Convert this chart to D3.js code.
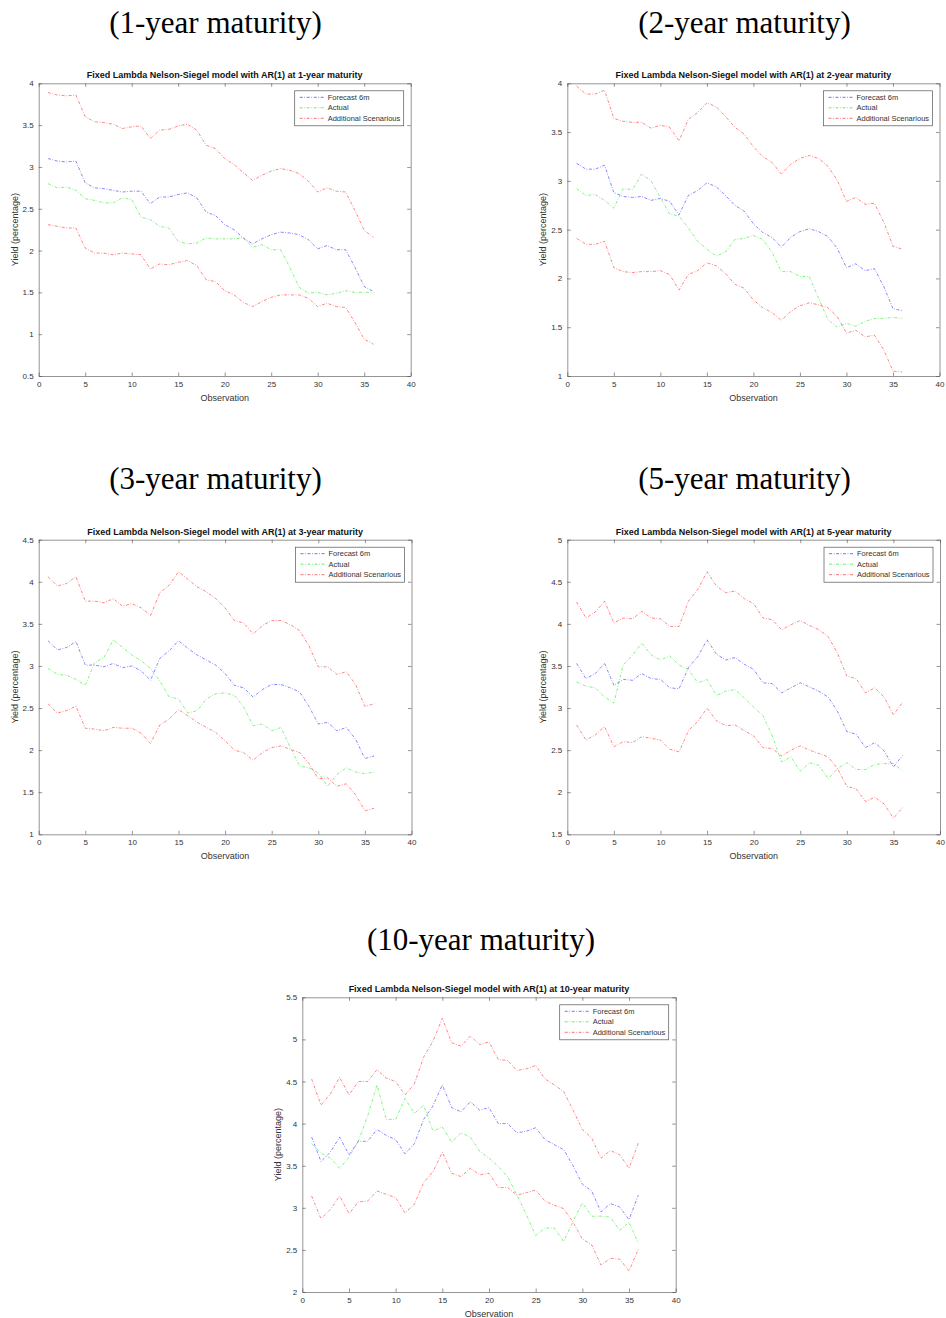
<!DOCTYPE html>
<html>
<head>
<meta charset="utf-8">
<script src="https://cdn.jsdelivr.net/npm/d3@7"></script>
<style>
  body { margin: 0; background: #fff; }
  svg { display: block; }
</style>
</head>
<body>
<div id="chart"></div>
<script>
// observation index (x axis)
const obs = [1,2,3,4,5,6,7,8,9,10,11,12,13,14,15,16,17,18,19,20,21,22,23,24,25,26,27,28,29,30,31,32,33,34,35,36];
const xTicks = [0,5,10,15,20,25,30,35,40];
const legendLabels = ["Forecast 6m", "Actual", "Additional Scenarious"];
const headings = ["(1-year maturity)", "(2-year maturity)", "(3-year maturity)", "(5-year maturity)", "(10-year maturity)"];
const titles = [
  "Fixed Lambda Nelson-Siegel model with AR(1) at 1-year maturity",
  "Fixed Lambda Nelson-Siegel model with AR(1) at 2-year maturity",
  "Fixed Lambda Nelson-Siegel model with AR(1) at 3-year maturity",
  "Fixed Lambda Nelson-Siegel model with AR(1) at 5-year maturity",
  "Fixed Lambda Nelson-Siegel model with AR(1) at 10-year maturity"
];
const yTicks1 = [0.5,1,1.5,2,2.5,3,3.5,4];
const yTicks2 = [1,1.5,2,2.5,3,3.5,4];
const yTicks3 = [1,1.5,2,2.5,3,3.5,4,4.5];
const yTicks5 = [1.5,2,2.5,3,3.5,4,4.5,5];
const yTicks10 = [2,2.5,3,3.5,4,4.5,5,5.5];

// 1-year
const forecast1 = [3.10,3.07,3.06,3.07,2.81,2.75,2.74,2.72,2.70,2.71,2.71,2.56,2.64,2.64,2.67,2.69,2.63,2.46,2.42,2.31,2.25,2.15,2.08,2.14,2.19,2.22,2.21,2.19,2.13,2.02,2.06,2.01,2.01,1.80,1.57,1.51];
const actual1 = [2.80,2.75,2.76,2.72,2.62,2.60,2.57,2.57,2.63,2.61,2.40,2.37,2.29,2.27,2.11,2.08,2.09,2.15,2.14,2.14,2.14,2.15,2.04,2.07,2.01,2.01,1.80,1.56,1.49,1.50,1.47,1.49,1.52,1.50,1.50,1.50];
const upper1 = [3.89,3.86,3.85,3.86,3.60,3.54,3.53,3.51,3.46,3.48,3.49,3.34,3.44,3.45,3.49,3.51,3.44,3.26,3.22,3.10,3.03,2.93,2.84,2.90,2.95,2.98,2.96,2.92,2.83,2.70,2.75,2.71,2.70,2.48,2.24,2.16];
const lower1 = [2.31,2.29,2.27,2.27,2.03,1.97,1.97,1.95,1.97,1.96,1.95,1.78,1.84,1.83,1.86,1.88,1.82,1.65,1.63,1.52,1.47,1.38,1.33,1.39,1.44,1.47,1.47,1.47,1.43,1.33,1.37,1.33,1.32,1.14,0.94,0.88];

// 2-year
const forecast2 = [3.18,3.12,3.12,3.16,2.88,2.84,2.83,2.84,2.80,2.82,2.79,2.65,2.85,2.90,2.98,2.94,2.85,2.75,2.69,2.56,2.47,2.42,2.32,2.42,2.48,2.51,2.48,2.43,2.31,2.11,2.15,2.08,2.10,1.92,1.69,1.67];
const actual2 = [2.92,2.85,2.86,2.80,2.72,2.92,2.91,3.07,3.00,2.83,2.66,2.64,2.52,2.38,2.30,2.23,2.27,2.40,2.41,2.44,2.40,2.27,2.07,2.07,2.02,2.02,1.80,1.58,1.50,1.54,1.51,1.56,1.59,1.59,1.60,1.59];
const upper2 = [3.97,3.89,3.89,3.93,3.64,3.61,3.60,3.60,3.54,3.57,3.55,3.41,3.63,3.70,3.80,3.76,3.66,3.55,3.48,3.35,3.25,3.19,3.07,3.17,3.23,3.26,3.23,3.15,3.01,2.79,2.83,2.76,2.77,2.58,2.33,2.30];
const lower2 = [2.41,2.35,2.35,2.38,2.11,2.07,2.06,2.07,2.07,2.08,2.04,1.88,2.04,2.08,2.16,2.13,2.05,1.94,1.90,1.78,1.70,1.65,1.57,1.66,1.72,1.75,1.73,1.70,1.61,1.44,1.47,1.40,1.42,1.27,1.05,1.04];

// 3-year
const forecast3 = [3.30,3.19,3.22,3.29,3.01,3.01,2.99,3.03,2.98,3.00,2.94,2.83,3.09,3.18,3.30,3.21,3.13,3.07,3.01,2.91,2.77,2.74,2.63,2.72,2.78,2.78,2.74,2.69,2.52,2.31,2.33,2.23,2.27,2.13,1.90,1.93];
const actual3 = [2.97,2.90,2.89,2.84,2.77,3.04,3.10,3.31,3.22,3.13,3.06,2.97,2.82,2.63,2.61,2.44,2.47,2.61,2.67,2.68,2.65,2.51,2.29,2.31,2.23,2.27,2.03,1.81,1.79,1.73,1.57,1.71,1.79,1.74,1.72,1.74];
const upper3 = [4.06,3.95,3.98,4.06,3.77,3.77,3.75,3.80,3.71,3.74,3.69,3.60,3.87,3.96,4.12,4.03,3.94,3.88,3.80,3.69,3.54,3.51,3.38,3.48,3.54,3.54,3.49,3.42,3.24,2.99,2.99,2.90,2.93,2.78,2.52,2.55];
const lower3 = [2.55,2.44,2.47,2.52,2.26,2.25,2.23,2.27,2.26,2.26,2.20,2.08,2.30,2.37,2.48,2.41,2.33,2.27,2.21,2.11,2.00,1.97,1.88,1.97,2.03,2.05,2.01,1.97,1.84,1.66,1.67,1.57,1.60,1.47,1.28,1.31];

// 5-year
const forecast5 = [3.53,3.35,3.41,3.53,3.27,3.34,3.33,3.41,3.35,3.34,3.24,3.23,3.48,3.61,3.81,3.64,3.57,3.60,3.52,3.46,3.30,3.29,3.18,3.24,3.30,3.25,3.20,3.13,2.96,2.72,2.69,2.53,2.59,2.49,2.30,2.44];
const actual5 = [3.31,3.26,3.24,3.13,3.06,3.51,3.63,3.77,3.63,3.57,3.62,3.51,3.46,3.30,3.34,3.15,3.20,3.22,3.12,3.01,2.91,2.67,2.36,2.42,2.25,2.35,2.32,2.16,2.28,2.35,2.27,2.27,2.33,2.34,2.34,2.25];
const upper5 = [4.26,4.07,4.14,4.27,4.01,4.07,4.06,4.15,4.07,4.06,3.97,3.97,4.27,4.41,4.62,4.45,4.37,4.39,4.30,4.24,4.07,4.05,3.93,3.99,4.04,3.98,3.93,3.85,3.65,3.38,3.35,3.18,3.24,3.13,2.92,3.07];
const lower5 = [2.80,2.62,2.68,2.78,2.54,2.60,2.59,2.66,2.64,2.62,2.51,2.48,2.73,2.84,3.00,2.85,2.79,2.80,2.73,2.67,2.53,2.52,2.43,2.50,2.55,2.50,2.46,2.42,2.28,2.07,2.04,1.89,1.94,1.86,1.69,1.82];

// 10-year
const forecast10 = [3.84,3.55,3.66,3.84,3.63,3.79,3.79,3.93,3.86,3.81,3.64,3.76,4.05,4.21,4.46,4.19,4.14,4.26,4.16,4.19,4.00,4.00,3.89,3.91,3.95,3.81,3.75,3.69,3.50,3.28,3.20,2.95,3.05,3.01,2.86,3.15];
const actual10 = [3.76,3.65,3.59,3.47,3.60,3.79,4.09,4.46,4.05,4.05,4.30,4.12,4.22,3.91,3.96,3.78,3.89,3.84,3.67,3.59,3.49,3.37,3.15,2.92,2.67,2.76,2.76,2.60,2.84,3.06,2.90,2.90,2.89,2.73,2.83,2.58];
const upper10 = [4.53,4.22,4.35,4.55,4.34,4.50,4.50,4.64,4.54,4.50,4.34,4.47,4.79,4.98,5.25,4.96,4.92,5.04,4.94,4.97,4.76,4.75,4.63,4.65,4.69,4.53,4.46,4.38,4.16,3.93,3.83,3.59,3.68,3.63,3.47,3.77];
const lower10 = [3.14,2.87,2.98,3.14,2.93,3.07,3.08,3.20,3.16,3.12,2.94,3.04,3.30,3.43,3.66,3.41,3.37,3.47,3.39,3.41,3.24,3.24,3.15,3.18,3.21,3.08,3.03,2.99,2.83,2.63,2.56,2.32,2.40,2.39,2.25,2.51];

const W = 946, H = 1318;
const colors = {forecast: "#0000ff", actual: "#00e000", scen: "#ff0000"};
const dash = "3,1.6,0.8,1.6";
const axisColor = "#4d4d4d";
const sans = "'Liberation Sans', Arial, Helvetica, sans-serif";

// panel layout (page pixels)
const panels = [
  {heading: headings[0], hx: 215.5, hy: 33.3, title: titles[0], left: 38.7, right: 410.7, top: 83.3, bottom: 376, domain: [0.5, 4], yTicks: yTicks1,
   series: [forecast1, actual1, upper1, lower1]},
  {heading: headings[1], hx: 744.5, hy: 33.3, title: titles[1], left: 567.3, right: 939.5, top: 83.3, bottom: 376, domain: [1, 4], yTicks: yTicks2,
   series: [forecast2, actual2, upper2, lower2]},
  {heading: headings[2], hx: 215.5, hy: 489, title: titles[2], left: 38.7, right: 411.5, top: 539.7, bottom: 834.3, domain: [1, 4.5], yTicks: yTicks3,
   series: [forecast3, actual3, upper3, lower3]},
  {heading: headings[3], hx: 744.5, hy: 489, title: titles[3], left: 567.3, right: 940, top: 539.7, bottom: 834.3, domain: [1.5, 5], yTicks: yTicks5,
   series: [forecast5, actual5, upper5, lower5]},
  {heading: headings[4], hx: 481, hy: 950, title: titles[4], left: 302.3, right: 675.7, top: 997.3, bottom: 1292, domain: [2, 5.5], yTicks: yTicks10,
   series: [forecast10, actual10, upper10, lower10]}
];

const svg = d3.select("#chart")
  .append("svg")
    .attr("width", W)
    .attr("height", H);

svg.append("rect").attr("width", W).attr("height", H).attr("fill", "#fff");

function drawPanel(p) {
  const x = d3.scaleLinear([0, 40], [p.left, p.right]);
  const y = d3.scaleLinear(p.domain, [p.bottom, p.top]);
  const g = svg.append("g");

  // heading above the figure
  svg.append("text")
    .attr("x", p.hx).attr("y", p.hy)
    .attr("text-anchor", "middle")
    .style("font-family", "'Liberation Serif', 'Times New Roman', serif")
    .style("font-size", "31px")
    .attr("fill", "#000")
    .text(p.heading);

  const fmt = d => String(d);

  const styleAxis = sel => {
    sel.select(".domain").attr("stroke", axisColor).attr("stroke-width", 0.6);
    sel.selectAll(".tick line").attr("stroke", axisColor).attr("stroke-width", 0.6);
    sel.selectAll(".tick text").attr("fill", "#333").style("font-family", sans).style("font-size", "8px");
  };

  g.append("g")
    .attr("transform", "translate(0," + p.bottom + ")")
    .call(d3.axisBottom(x).tickValues(xTicks).tickFormat(fmt).tickSizeInner(-3.5).tickSizeOuter(0).tickPadding(5))
    .call(styleAxis);
  g.append("g")
    .attr("transform", "translate(0," + p.top + ")")
    .call(d3.axisTop(x).tickValues(xTicks).tickFormat("").tickSizeInner(-3.5).tickSizeOuter(0))
    .call(styleAxis);
  g.append("g")
    .attr("transform", "translate(" + p.left + ",0)")
    .call(d3.axisLeft(y).tickValues(p.yTicks).tickFormat(fmt).tickSizeInner(-3.5).tickSizeOuter(0).tickPadding(5))
    .call(styleAxis);
  g.append("g")
    .attr("transform", "translate(" + p.right + ",0)")
    .call(d3.axisRight(y).tickValues(p.yTicks).tickFormat("").tickSizeInner(-3.5).tickSizeOuter(0))
    .call(styleAxis);

  // lines
  const line = d3.line().x((d, i) => x(obs[i])).y(d => y(d));
  const cols = [colors.forecast, colors.actual, colors.scen, colors.scen];
  p.series.forEach((s, i) => {
    g.append("path")
      .datum(s)
      .attr("d", line)
      .attr("fill", "none")
      .attr("stroke", cols[i])
      .attr("stroke-width", 0.8)
      .attr("stroke-opacity", 0.6)
      .attr("stroke-dasharray", dash);
  });

  // title
  g.append("text")
    .attr("x", (p.left + p.right) / 2).attr("y", p.top - 5)
    .attr("text-anchor", "middle")
    .style("font-family", sans).style("font-size", "9px").style("font-weight", "bold")
    .attr("fill", "#111")
    .text(p.title);

  // axis labels
  g.append("text")
    .attr("x", (p.left + p.right) / 2).attr("y", p.bottom + 24.5)
    .attr("text-anchor", "middle")
    .style("font-family", sans).style("font-size", "9px")
    .attr("fill", "#333")
    .text("Observation");
  g.append("text")
    .attr("transform", "translate(" + (p.left - 21) + "," + ((p.top + p.bottom) / 2) + ") rotate(-90)")
    .attr("text-anchor", "middle")
    .style("font-family", sans).style("font-size", "9px")
    .attr("fill", "#333")
    .text("Yield (percentage)");

  // legend
  const lw = 109, lh = 35;
  const lx = p.right - 7 - lw, ly = p.top + 7.5;
  const leg = g.append("g").attr("transform", "translate(" + lx + "," + ly + ")");
  leg.append("rect").attr("width", lw).attr("height", lh)
    .attr("fill", "#fff").attr("stroke", "#555").attr("stroke-width", 0.7);
  legendLabels.forEach((lab, i) => {
    const yy = 6.5 + i * 10.5;
    leg.append("line").attr("x1", 5).attr("x2", 30).attr("y1", yy).attr("y2", yy)
      .attr("stroke", cols[i]).attr("stroke-width", 0.8).attr("stroke-opacity", 0.7)
      .attr("stroke-dasharray", dash);
    leg.append("text").attr("x", 33).attr("y", yy).attr("dy", "0.35em")
      .style("font-family", sans).style("font-size", "7.5px")
      .attr("fill", "#333")
      .text(lab);
  });
}

panels.forEach(drawPanel);
</script>
</body>
</html>
